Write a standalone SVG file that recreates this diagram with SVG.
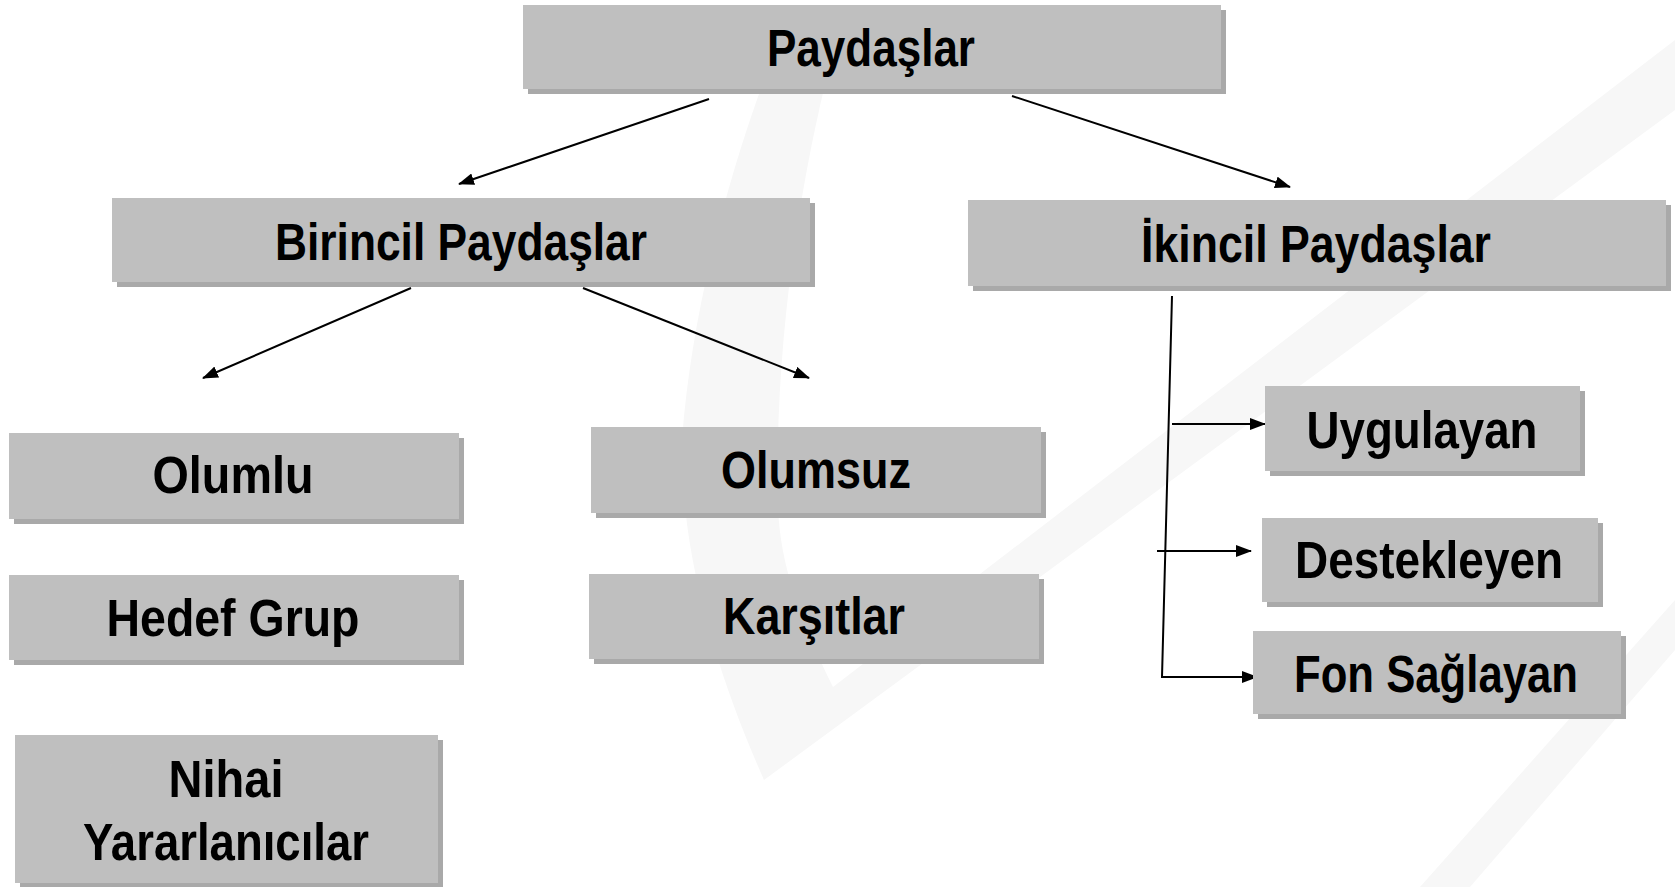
<svg xmlns="http://www.w3.org/2000/svg" width="1675" height="887" viewBox="0 0 1675 887">
<defs>
<style>
.sh{fill:#a9a9a9}
.bx{fill:#bfbfbf}
.t{font-family:"Liberation Sans",Arial,sans-serif;font-weight:bold;font-size:51px;fill:#000;text-anchor:middle}
.c{stroke:#000;stroke-width:2;fill:none}
.wm{fill:#f7f7f7}
</style>
<marker id="ah" markerWidth="16" markerHeight="12" refX="15" refY="6" orient="auto" markerUnits="userSpaceOnUse">
<path d="M0,0 L16,6 L0,12 Z" fill="#000"/>
</marker>
</defs>
<rect width="1675" height="887" fill="#fff"/>
<g id="watermark">
<path class="wm" d="M764,80 C720,200 690,330 682,440 C680,560 720,680 764,780 L1675,110 L1675,40 L833,687 C800,620 778,560 778,500 C775,380 790,230 826,80 Z"/>
<path class="wm" d="M1420,887 L1675,600 L1675,650 L1470,887 Z"/>
</g>
<g id="connectors">
<line class="c" x1="709" y1="99" x2="459" y2="184" marker-end="url(#ah)"/>
<line class="c" x1="1012" y1="96" x2="1290" y2="187" marker-end="url(#ah)"/>
<line class="c" x1="411" y1="288" x2="203" y2="378" marker-end="url(#ah)"/>
<line class="c" x1="583" y1="288" x2="809" y2="378" marker-end="url(#ah)"/>
<polyline class="c" points="1172,296 1162,677 1257,677" marker-end="url(#ah)"/>
<line class="c" x1="1172" y1="424" x2="1265" y2="424" marker-end="url(#ah)"/>
<line class="c" x1="1157" y1="551" x2="1251" y2="551" marker-end="url(#ah)"/>
</g>
<g id="n-paydaslar"><rect class="sh" x="528" y="10" width="698" height="84"/><rect class="bx" x="523" y="5" width="698" height="84"/><text class="t" x="871" y="66" textLength="208" lengthAdjust="spacingAndGlyphs">Paydaşlar</text></g>
<g id="n-birincil"><rect class="sh" x="117" y="203" width="698" height="84"/><rect class="bx" x="112" y="198" width="698" height="84"/><text class="t" x="461" y="260" textLength="372" lengthAdjust="spacingAndGlyphs">Birincil Paydaşlar</text></g>
<g id="n-ikincil"><rect class="sh" x="973" y="205" width="698" height="86"/><rect class="bx" x="968" y="200" width="698" height="86"/><text class="t" x="1316" y="262" textLength="350" lengthAdjust="spacingAndGlyphs">İkincil Paydaşlar</text></g>
<g id="n-olumlu"><rect class="sh" x="14" y="438" width="450" height="86"/><rect class="bx" x="9" y="433" width="450" height="86"/><text class="t" x="233" y="493" textLength="161" lengthAdjust="spacingAndGlyphs">Olumlu</text></g>
<g id="n-olumsuz"><rect class="sh" x="596" y="432" width="450" height="86"/><rect class="bx" x="591" y="427" width="450" height="86"/><text class="t" x="816" y="488" textLength="190" lengthAdjust="spacingAndGlyphs">Olumsuz</text></g>
<g id="n-hedef"><rect class="sh" x="14" y="580" width="450" height="85"/><rect class="bx" x="9" y="575" width="450" height="85"/><text class="t" x="233" y="636" textLength="253" lengthAdjust="spacingAndGlyphs">Hedef Grup</text></g>
<g id="n-karsitlar"><rect class="sh" x="594" y="579" width="450" height="85"/><rect class="bx" x="589" y="574" width="450" height="85"/><text class="t" x="814" y="634" textLength="182" lengthAdjust="spacingAndGlyphs">Karşıtlar</text></g>
<g id="n-nihai"><rect class="sh" x="20" y="740" width="423" height="148"/><rect class="bx" x="15" y="735" width="423" height="148"/><text class="t" x="226" y="797" textLength="115" lengthAdjust="spacingAndGlyphs">Nihai</text><text class="t" x="226" y="860" textLength="286" lengthAdjust="spacingAndGlyphs">Yararlanıcılar</text></g>
<g id="n-uygulayan"><rect class="sh" x="1270" y="391" width="315" height="85"/><rect class="bx" x="1265" y="386" width="315" height="85"/><text class="t" x="1422" y="448" textLength="231" lengthAdjust="spacingAndGlyphs">Uygulayan</text></g>
<g id="n-destekleyen"><rect class="sh" x="1267" y="523" width="336" height="84"/><rect class="bx" x="1262" y="518" width="336" height="84"/><text class="t" x="1429" y="578" textLength="268" lengthAdjust="spacingAndGlyphs">Destekleyen</text></g>
<g id="n-fon"><rect class="sh" x="1258" y="636" width="368" height="83"/><rect class="bx" x="1253" y="631" width="368" height="83"/><text class="t" x="1436" y="692" textLength="284" lengthAdjust="spacingAndGlyphs">Fon Sağlayan</text></g>
</svg>
